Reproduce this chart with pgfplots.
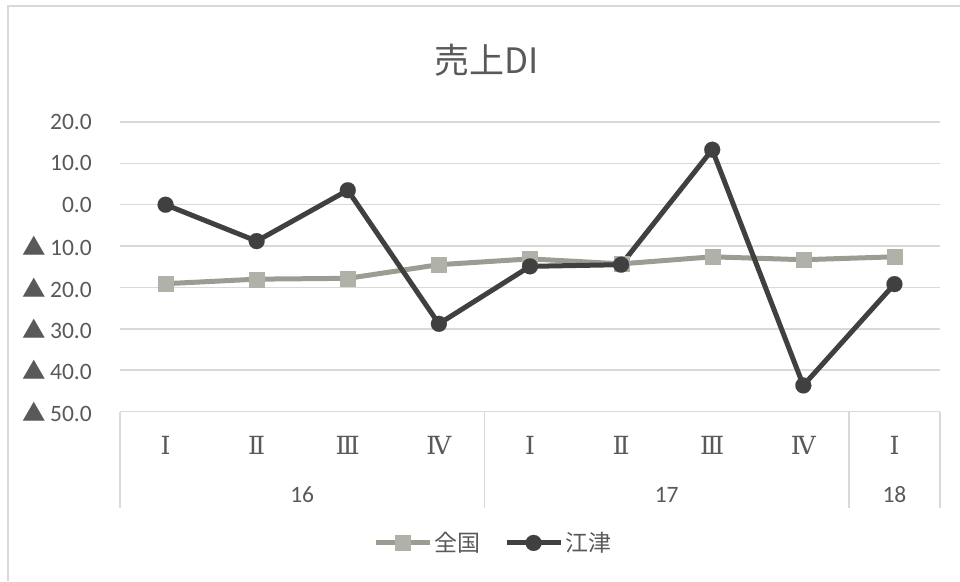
\documentclass[border=0pt]{standalone}
\usepackage{pgfplots}
\pgfplotsset{compat=1.18}
\usepackage{fontspec}
\setmainfont{Carlito}
\newfontfamily\cjk{Noto Sans CJK JP}
\newfontfamily\romfont{DejaVu Serif}

\definecolor{txt}{HTML}{595959}
\definecolor{gridc}{HTML}{D9D9D9}
\definecolor{gotsu}{HTML}{404040}
\definecolor{zenline}{HTML}{9C9D92}
\definecolor{zenmark}{HTML}{B0B2A9}

\begin{document}
\begin{tikzpicture}
\useasboundingbox (0,0) rectangle (960pt,581pt);
% chart area border
\draw[gridc, line width=1.5pt] (8pt,0) -- (8pt,575pt) -- (960pt,575pt);
% title
\node[txt, font=\cjk\fontsize{35}{40}\selectfont] at (487pt,521pt) {売上DI};

\begin{axis}[
    at={(120pt,169.5pt)}, anchor=south west,
    width=820pt, height=289.5pt, scale only axis,
    clip=false,
    xmin=-0.5, xmax=8.5,
    ymin=-50, ymax=20,
    axis line style={draw=none},
    major tick length=0pt,
    ytick={-50,-40,-30,-20,-10,0,10,20},
    yticklabels={{\cjk ▲}\,50.0,{\cjk ▲}\,40.0,{\cjk ▲}\,30.0,{\cjk ▲}\,20.0,{\cjk ▲}\,10.0,0.0,10.0,20.0},
    ymajorgrids,
    grid style={gridc, line width=1.5pt},
    yticklabel style={anchor=east, inner sep=0pt, xshift=-28pt, text=txt, font=\fontsize{23.5}{26}\selectfont},
    xtick={0,...,8},
    xticklabels={Ⅰ,Ⅱ,Ⅲ,Ⅳ,Ⅰ,Ⅱ,Ⅲ,Ⅳ,Ⅰ},
    xticklabel style={anchor=center, inner sep=0pt, yshift=-33.5pt, text=txt, font=\romfont\fontsize{25}{28}\selectfont},
    legend columns=2,
    legend style={at={(0.455,-0.454)}, anchor=center, draw=none, fill=none,
        font=\cjk\fontsize{23}{26}\selectfont, text=txt,
        nodes={inner xsep=2pt},
        /tikz/every even column/.append style={column sep=22pt}},
    legend cell align=left,
    legend image code/.code={
        \draw[mark repeat=2, mark phase=2, #1] plot coordinates {(0pt,0pt) (27pt,0pt) (54pt,0pt)};
    },
]
\addplot[zenline, line width=5pt, mark=square*, mark size=7.5pt,
    mark options={draw=zenmark, line width=0.1pt, fill=zenmark, solid}] coordinates {
    (0,-19.1) (1,-18.0) (2,-17.8) (3,-14.5) (4,-13.1) (5,-14.3) (6,-12.6) (7,-13.3) (8,-12.6)
};
\addlegendentry{全国}
\addplot[gotsu, line width=5pt, mark=*, mark size=8pt,
    mark options={draw=gotsu, line width=0.1pt, fill=gotsu, solid}] coordinates {
    (0,0.0) (1,-8.8) (2,3.5) (3,-28.8) (4,-14.9) (5,-14.5) (6,13.3) (7,-43.7) (8,-19.2)
};
\addlegendentry{江津}

% category table separators
\draw[gridc, line width=1.5pt] (axis cs:-0.5,-50) -- ++(0pt,-96.5pt);
\draw[gridc, line width=1.5pt] (axis cs:3.5,-50) -- ++(0pt,-96.5pt);
\draw[gridc, line width=1.5pt] (axis cs:7.5,-50) -- ++(0pt,-96.5pt);
\draw[gridc, line width=1.5pt] (axis cs:8.5,-50) -- ++(0pt,-96.5pt);
% year labels
\node[txt, font=\fontsize{23.5}{26}\selectfont] at (axis cs:1.5,-50) [yshift=-83pt] {16};
\node[txt, font=\fontsize{23.5}{26}\selectfont] at (axis cs:5.5,-50) [yshift=-83pt] {17};
\node[txt, font=\fontsize{23.5}{26}\selectfont] at (axis cs:8,-50) [yshift=-83pt] {18};
\end{axis}
\end{tikzpicture}
\end{document}
